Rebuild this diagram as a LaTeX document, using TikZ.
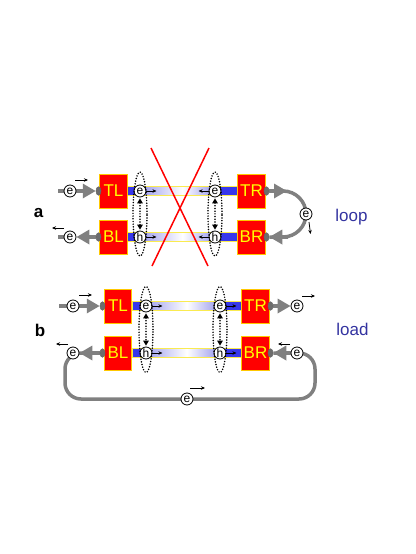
\documentclass[tikz,border=0pt]{standalone}
\usepackage{fontspec}
\setmainfont{Liberation Sans}
\usetikzlibrary{arrows.meta,shapes.geometric,calc}
\definecolor{bblue}{RGB}{55,55,235}
\definecolor{blav}{RGB}{172,172,240}
\definecolor{boxred}{RGB}{255,0,0}
\definecolor{boxedge}{RGB}{255,200,0}
\definecolor{txtyel}{RGB}{255,255,0}
\definecolor{garr}{RGB}{128,128,128}
\definecolor{lblue}{RGB}{51,51,160}
\definecolor{baredge}{RGB}{250,235,80}
\pgfdeclarehorizontalshading{barshade}{100bp}{color(0bp)=(bblue); color(25bp)=(bblue); color(29bp)=(bblue); color(34bp)=(blav); color(50bp)=(white); color(62bp)=(blav); color(66bp)=(bblue); color(75bp)=(bblue); color(100bp)=(bblue)}
\pgfdeclarelayer{bg}
\pgfsetlayers{bg,main}
\begin{document}
\begin{tikzpicture}[x=1pt,y=-1pt,
 rbox/.style={rectangle,fill=boxred,draw=boxedge,line width=0.7pt,minimum width=27.5pt,minimum height=34pt,inner sep=0pt,text=txtyel,font=\fontsize{17}{17}\selectfont},
 contact/.style={ellipse,fill=garr!85!black,draw=black!60,line width=0.5pt,minimum width=5pt,minimum height=8.5pt,inner sep=0pt},
 part/.style={circle,fill=white,draw=black,line width=0.8pt,minimum size=12pt,inner sep=0pt,font=\fontsize{12}{12}\selectfont},
 gline/.style={draw=garr,line width=3.5pt},
 garrow/.style={gline,-{Triangle[length=13pt,width=14pt]}},
 smallarr/.style={draw=black,line width=0.8pt,-{Stealth[length=4pt,width=3.5pt]}},
 dotell/.style={ellipse,draw=black,line width=1.7pt,line cap=round,dash pattern=on 0pt off 2.7pt,minimum width=14pt,inner sep=0pt},
 dotarr/.style={draw=black,line width=1.7pt,line cap=round,dash pattern=on 0pt off 2.7pt,{Triangle[length=5pt,width=5.5pt]}-{Triangle[length=5pt,width=5.5pt]},shorten <=1pt,shorten >=1pt},
 bar/.style={shading=barshade,draw=baredge,line width=0.7pt},
 lbl/.style={text=lblue,font=\fontsize{17}{17}\selectfont,anchor=base,inner sep=0pt},
 plbl/.style={font=\bfseries\fontsize{17}{17}\selectfont,anchor=base,inner sep=0pt},
 redx/.style={draw=red,line width=1.5pt}
]
\useasboundingbox (0,0) rectangle (415,554);

% ---------- panel a ----------
\node[rbox] (TLa) at (113.5,191) {TL};
\node[rbox] (BLa) at (113.5,237) {BL};
\node[rbox] (TRa) at (251.5,191) {TR};
\node[rbox] (BRa) at (251.5,237) {BR};
\node[contact] (cTLa) at (98.5,191) {};
\node[contact] (cBLa) at (98.5,237) {};
\node[contact] (cTRa) at (266.5,191) {};
\node[contact] (cBRa) at (266.5,237) {};
\node[part] (eTLa) at (140,191) {e};
\node[part] (hBLa) at (140,237) {h};
\node[part] (eTRa) at (215,191) {e};
\node[part] (hBRa) at (215,237) {h};
\node[part] (eiTLa) at (70,191) {e};
\node[part] (eiBLa) at (70,237) {e};
\node[part] (eLoop) at (306,214) {e};
\coordinate (sTLa) at (58,191);
\coordinate (sBLa) at (58,237);
\coordinate (lpT) at (306,191);
\coordinate (lpB) at (306,237);
\coordinate (tipTR) at (287,191);
\coordinate (tailBR) at (288,237);

% ---------- panel b ----------
\node[rbox] (TLb) at (118,306) {TL};
\node[rbox] (BLb) at (118,353) {BL};
\node[rbox] (TRb) at (255.5,306) {TR};
\node[rbox] (BRb) at (255.5,353) {BR};
\node[contact] (cTLb) at (102.5,306) {};
\node[contact] (cBLb) at (102.5,353) {};
\node[contact] (cTRb) at (270.5,306) {};
\node[contact] (cBRb) at (270.5,353) {};
\node[part] (eTLb) at (146,306) {e};
\node[part] (hBLb) at (146,353) {h};
\node[part] (eTRb) at (220,306) {e};
\node[part] (hBRb) at (220,353) {h};
\node[part] (eiTLb) at (73,306) {e};
\node[part] (eiBLb) at (73,353) {e};
\node[part] (eoTRb) at (297,306) {e};
\node[part] (eiBRb) at (297,353) {e};
\node[part] (eLoad) at (187,399) {e};
\coordinate (sTLb) at (59,306);
\coordinate (ldA) at (65,353);
\coordinate (ldB) at (65,399);
\coordinate (ldC) at (315,399);
\coordinate (ldD) at (315,353);

% ---------- background: bars and grey wires ----------
\begin{pgfonlayer}{bg}
\shadedraw[bar] ($(TLa.east)+(0,-4.5)$) rectangle ($(TRa.west)+(0,4.5)$);
\shadedraw[bar] ($(BLa.east)+(0,-4.5)$) rectangle ($(BRa.west)+(0,4.5)$);
\shadedraw[bar] ($(TLb.east)+(0,-4.5)$) rectangle ($(TRb.west)+(0,4.5)$);
\shadedraw[bar] ($(BLb.east)+(0,-4.5)$) rectangle ($(BRb.west)+(0,4.5)$);
% panel a wires
\draw[garrow] (sTLa) -- (cTLa.west);
\draw[garrow] (cBLa.west) -- (eiBLa.east);
\draw[gline] (eiBLa) -- (sBLa);
\draw[gline,rounded corners=23pt] (cTRa.east) -- (lpT) -- (lpB) -- (cBRa.east);
\draw[garrow] (cTRa.east) -- (tipTR);
\draw[garrow] (tailBR) -- (cBRa.east);
% panel b wires
\draw[garrow] (sTLb) -- (cTLb.west);
\draw[gline,rounded corners=16pt] (cBLb.west) -- (ldA) -- (ldB) -- (ldC) -- (ldD) -- (cBRb.east);
\draw[garrow] (cBLb.west) -- (eiBLb.east);
\draw[garrow] (cTRb.east) -- (eoTRb.west);
\draw[garrow] (eiBRb.west) -- (cBRb.east);
\end{pgfonlayer}

% ---------- dotted ellipses and exciton arrows ----------
\node[dotell,minimum height=84pt] (elLa) at ($(eTLa)!0.5!(hBLa)$) {};
\node[dotell,minimum height=84pt] (elRa) at ($(eTRa)!0.5!(hBRa)$) {};
\node[dotell,minimum height=86pt] (elLb) at ($(eTLb)!0.5!(hBLb)$) {};
\node[dotell,minimum height=86pt] (elRb) at ($(eTRb)!0.5!(hBRb)$) {};
\draw[dotarr] (eTLa.south) -- (hBLa.north);
\draw[dotarr] (eTRa.south) -- (hBRa.north);
\draw[dotarr] (eTLb.south) -- (hBLb.north);
\draw[dotarr] (eTRb.south) -- (hBRb.north);

% ---------- small direction arrows ----------
\draw[smallarr] (eTLa.east) -- ++(10,0);
\draw[smallarr] (hBLa.east) -- ++(10,0);
\draw[smallarr] (eTRa.west) -- ++(-10,0);
\draw[smallarr] (hBRa.west) -- ++(-10,0);
\draw[smallarr] (eTLb.east) -- ++(10,0);
\draw[smallarr] (hBLb.east) -- ++(10,0);
\draw[smallarr] (eTRb.east) -- ++(10,0);
\draw[smallarr] (hBRb.east) -- ++(10,0);
\draw[smallarr] ($(eiTLa)+(5,-11)$) -- ++(13,0);
\draw[smallarr] ($(eiBLa)+(-6,-9)$) -- ++(-12,0);
\draw[smallarr] ($(eLoop)+(3,8)$) -- ++(1.5,12);
\draw[smallarr] ($(eiTLb)+(6,-11)$) -- ++(13,0);
\draw[smallarr] ($(eiBLb)+(-5,-9)$) -- ++(-12,0);
\draw[smallarr] ($(eoTRb)+(5,-10)$) -- ++(13,0);
\draw[smallarr] ($(eiBRb)+(-7,-9)$) -- ++(-12,0);
\draw[smallarr] ($(eLoad)+(3,-11)$) -- ++(15,0);

% ---------- red cross ----------
\coordinate (x1) at (151,148);
\coordinate (x2) at (208,266);
\coordinate (x3) at (209,148);
\coordinate (x4) at (152,266);
\draw[redx] (x1) -- (x2);
\draw[redx] (x3) -- (x4);

% ---------- labels ----------
\node[plbl] (la) at (38.5,217) {a};
\node[plbl] (lb) at (40,336) {b};
\node[lbl] (lloop) at (351.5,221) {loop};
\node[lbl] (lload) at (352.5,335) {load};
\end{tikzpicture}
\end{document}
